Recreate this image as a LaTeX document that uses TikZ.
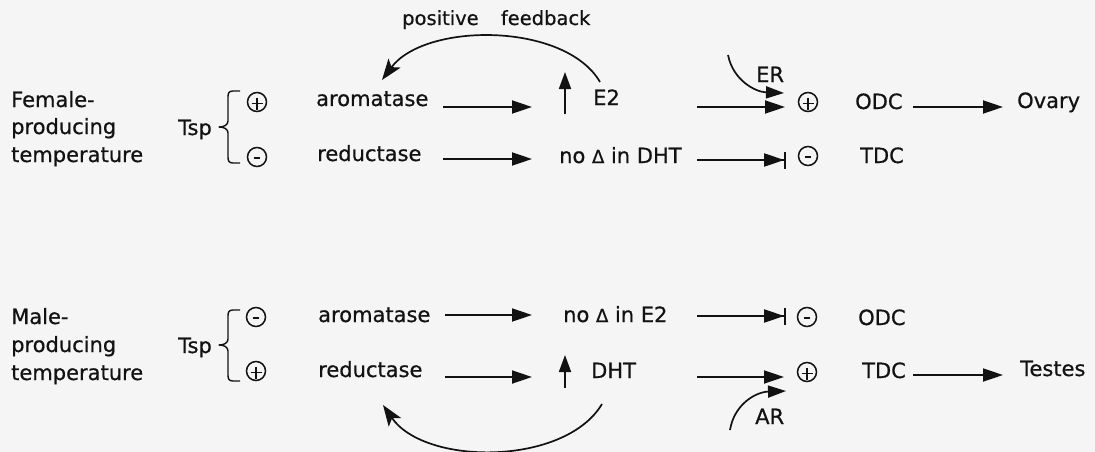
\documentclass[tikz,border=0pt]{standalone}
\usepackage{fontspec}
\setmainfont{DejaVu Sans}[FakeBold=0.6]
\usetikzlibrary{arrows.meta}
\definecolor{bg}{RGB}{245,245,245}
\definecolor{ink}{RGB}{18,18,18}
\newcommand{\smdelta}{{\fontsize{18}{18}\selectfont Δ}}
\tikzset{
  lbl/.style={inner sep=0pt, anchor=base west, text=ink, font=\fontsize{21}{25}\selectfont},
  fbl/.style={inner sep=0pt, anchor=base west, text=ink, font=\fontsize{19.5}{24}\selectfont},
  arr/.style={draw=ink, line width=1.8pt, -{Triangle[length=20pt,width=13pt]}},
  uparr/.style={draw=ink, line width=1.8pt, -{Triangle[length=17pt,width=12pt]}},
  inh/.style={draw=ink, line width=1.8pt, -{Triangle[length=20pt,width=13pt]Bar[width=17pt]}},
  bigcurve/.style={draw=ink, line width=1.7pt, -{Stealth[length=21pt,width=15pt,inset=5pt]}},
  smallcurve/.style={draw=ink, line width=1.7pt, -{Triangle[length=18pt,width=12pt]}},
  bracepath/.style={draw=ink, line width=1.4pt, line join=round},
  sgn/.style={circle, draw=ink, line width=1.5pt, minimum size=19pt, inner sep=0pt},
  plussgn/.style={sgn, path picture={
      \draw[ink, line width=1.4pt] ([shift={(-5.5pt,-1.5pt)}]path picture bounding box.center) -- ++(11pt,0pt);
      \draw[ink, line width=1.4pt] ([shift={(0pt,4.5pt)}]path picture bounding box.center) -- ++(0pt,-12pt);}},
  minussgn/.style={sgn, path picture={
      \draw[ink, line width=1.4pt] ([shift={(-3pt,-1pt)}]path picture bounding box.center) -- ++(6pt,0pt);}}
}
\begin{document}
\begin{tikzpicture}[x=1pt,y=-1pt]
\path[use as bounding box, fill=bg] (0,0) rectangle (1095,452);

% ---------------- female half ----------------
\node[lbl] (fem1) at (11,107) {Female-};
\node[lbl] (fem2) at (11,134) {producing};
\node[lbl] (fem3) at (11,162) {temperature};
\node[lbl] (tsp1) at (178,135) {Tsp};
\draw[bracepath] (240,91) -- (233,91) .. controls (229,91) and (228,93) .. (228,97)
  -- (228,121) .. controls (228,125) and (224,127) .. (219,127)
  .. controls (224,127) and (228,129) .. (228,133)
  -- (228,157) .. controls (228,161) and (229,163) .. (233,163) -- (240,163);
\node[plussgn] (c1p) at (257,102) {};
\node[minussgn] (c1m) at (257,157) {};
\node[lbl] (arom1) at (316,106) {aromatase};
\node[lbl] (red1) at (317,161) {reductase};

\coordinate (a1s) at (443,107); \coordinate (a1e) at (532,107);
\coordinate (r1s) at (443,159); \coordinate (r1e) at (532,159);
\draw[arr] (a1s) -- (a1e);
\draw[arr] (r1s) -- (r1e);

\coordinate (u1s) at (565,114); \coordinate (u1e) at (565,72);
\draw[uparr] (u1s) -- (u1e);
\node[lbl] (e2) at (593,105) {E2};
\node[lbl] (nodht) at (559,163) {no \smdelta\ in DHT};

\node[fbl] (fb) at (402,25) {positive\hspace{16pt} feedback};
\coordinate (fbs) at (600,82); \coordinate (fbe) at (382,80);
\draw[bigcurve] (fbs) .. controls (565,22) and (425,22) .. (fbe);

\coordinate (ers) at (728,55); \coordinate (ere) at (784,93);
\draw[smallcurve] (ers) .. controls (733,80) and (755,92) .. (ere);
\node[lbl] (er) at (756,82) {ER};

\coordinate (e2s) at (697,107); \coordinate (e2e) at (785,107);
\draw[arr] (e2s) -- (e2e);
\coordinate (h1s) at (697,160); \coordinate (h1e) at (786,160);
\draw[inh] (h1s) -- (h1e);

\node[plussgn] (d1p) at (808,102) {};
\node[minussgn] (d1m) at (808,156) {};
\node[lbl] (odc1) at (855,109) {ODC};
\node[lbl] (tdc1) at (860,163) {TDC};
\coordinate (o1s) at (913,107); \coordinate (o1e) at (1003,107);
\draw[arr] (o1s) -- (o1e);
\node[lbl] (ovary) at (1017,108) {Ovary};

% ---------------- male half ----------------
\node[lbl] (mal1) at (11,324) {Male-};
\node[lbl] (mal2) at (11,352) {producing};
\node[lbl] (mal3) at (11,380) {temperature};
\node[lbl] (tsp2) at (178,353) {Tsp};
\draw[bracepath] (240,310) -- (233,310) .. controls (229,310) and (228,312) .. (228,316)
  -- (228,339) .. controls (228,343) and (224,345) .. (219,345)
  .. controls (224,345) and (228,347) .. (228,351)
  -- (228,375) .. controls (228,379) and (229,381) .. (233,381) -- (240,381);
\node[minussgn] (c2m) at (256,317) {};
\node[plussgn] (c2p) at (256,371) {};
\node[lbl] (arom2) at (318,322) {aromatase};
\node[lbl] (red2) at (318,377) {reductase};

\coordinate (a2s) at (445,315); \coordinate (a2e) at (532,315);
\coordinate (r2s) at (445,377); \coordinate (r2e) at (532,377);
\draw[arr] (a2s) -- (a2e);
\draw[arr] (r2s) -- (r2e);

\node[lbl] (noe2) at (563,322) {no \smdelta\ in E2};
\coordinate (u2s) at (565,388); \coordinate (u2e) at (565,355);
\draw[uparr] (u2s) -- (u2e);
\node[lbl] (dht) at (591,378) {DHT};

\coordinate (fb2s) at (602,404); \coordinate (fb2e) at (383,405);
\draw[bigcurve] (fb2s) .. controls (565,466) and (425,466) .. (fb2e);

\coordinate (h2s) at (697,316); \coordinate (h2e) at (786,316);
\draw[inh] (h2s) -- (h2e);
\coordinate (d2s) at (697,377); \coordinate (d2e) at (784,377);
\draw[arr] (d2s) -- (d2e);

\coordinate (ars) at (730,430); \coordinate (are) at (786,391);
\draw[smallcurve] (ars) .. controls (734,405) and (755,392) .. (are);
\node[lbl] (ar) at (755,424) {AR};

\node[minussgn] (d2m) at (807,317) {};
\node[plussgn] (d2p) at (807,372) {};
\node[lbl] (odc2) at (858,325) {ODC};
\node[lbl] (tdc2) at (862,378) {TDC};
\coordinate (t2s) at (913,375); \coordinate (t2e) at (1003,375);
\draw[arr] (t2s) -- (t2e);
\node[lbl] (testes) at (1020,376) {Testes};
\end{tikzpicture}
\end{document}
